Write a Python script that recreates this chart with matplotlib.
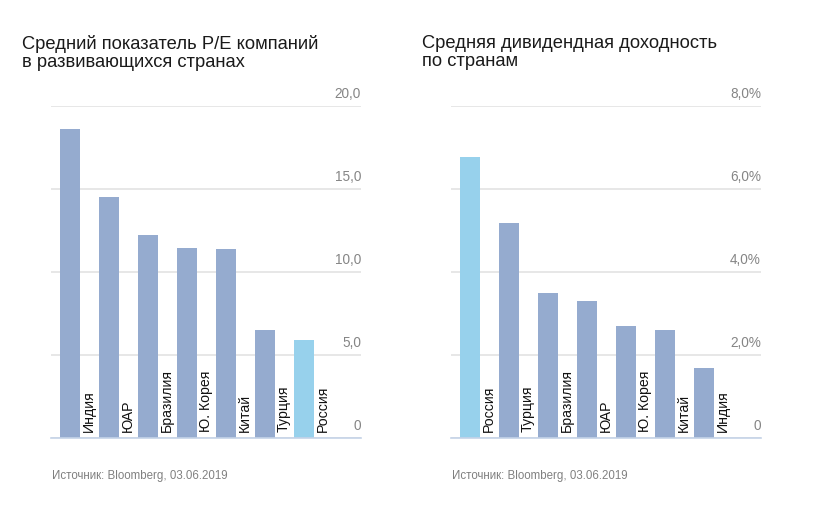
import matplotlib
matplotlib.use("Agg")
import matplotlib.pyplot as plt
from matplotlib.transforms import blended_transform_factory

plt.rcParams['font.family'] = ['Liberation Sans', 'DejaVu Sans']

# Data
pe_countries = ["Индия", "ЮАР", "Бразилия", "Ю. Корея", "Китай", "Турция", "Россия"]
pe_values = [18.6, 14.5, 12.2, 11.45, 11.4, 6.5, 5.9]
pe_ticks = [0, 5, 10, 15, 20]
pe_ticklabels = ["0", "5,0", "10,0", "15,0", "20,0"]

dy_countries = ["Россия", "Турция", "Бразилия", "ЮАР", "Ю. Корея", "Китай", "Индия"]
dy_values = [6.77, 5.18, 3.49, 3.3, 2.69, 2.6, 1.68]
dy_ticks = [0, 2, 4, 6, 8]
dy_ticklabels = ["0", "2,0%", "4,0%", "6,0%", "8,0%"]

titles = ["Средний показатель P/E компаний\nв развивающихся странах",
          "Средняя дивидендная доходность\nпо странам"]
source = "Источник: Bloomberg, 03.06.2019"

BAR = "#95abcf"
RUS = "#97d1ec"
W, H = 824, 509
fig = plt.figure(figsize=(W / 100, H / 100), dpi=100)


def panel(x0, countries, values, ticks, ticklabels, ymax, title):
    ax = fig.add_axes([x0 / W, (H - 438) / H, 310 / W, (438 - 106) / H])
    xs = list(range(len(countries)))
    colors = [RUS if c == "Россия" else BAR for c in countries]
    width = 20 / 39
    ax.bar(xs, values, width=width, color=colors, align="center", zorder=2)
    ax.set_xlim(-0.487, 7.46)
    ax.set_ylim(0, ymax)
    for s in ["top", "left", "right"]:
        ax.spines[s].set_visible(False)
    ax.spines["bottom"].set_color("#c5d3e8")
    ax.spines["bottom"].set_linewidth(1.2)
    ax.set_xticks([])
    ax.set_yticks(ticks)
    ax.tick_params(axis="y", length=0, labelleft=False)
    ax.yaxis.grid(True, color="#e3e3e3", linewidth=1.2, zorder=0)
    ax.set_axisbelow(True)
    tr = blended_transform_factory(ax.transAxes, ax.transData)
    for t, lab in zip(ticks, ticklabels):
        ax.annotate(lab, xy=(1.0, t), xycoords=tr, xytext=(0, 3.5),
                    textcoords="offset points", ha="right", va="bottom",
                    color="#858585", fontsize=9.8)
    for x, c in zip(xs, countries):
        ax.annotate(c, xy=(x + width / 2, 0), xytext=(1.5, 4),
                    textcoords="offset points", rotation=90,
                    ha="left", va="bottom", color="#111111", fontsize=10.2)
    fig.text((x0 - 29) / W, 1 - 35 / H, title, ha="left", va="top",
             fontsize=13.2, color="#1a1a1a", linespacing=1.08)
    fig.text((x0 + 1) / W, 1 - 476 / H, source, ha="left", va="center",
             fontsize=8.3, color="#808080")
    return ax


panel(51, pe_countries, pe_values, pe_ticks, pe_ticklabels, 20, titles[0])
panel(451, dy_countries, dy_values, dy_ticks, dy_ticklabels, 8, titles[1])

fig.savefig("out.png", dpi=100)
